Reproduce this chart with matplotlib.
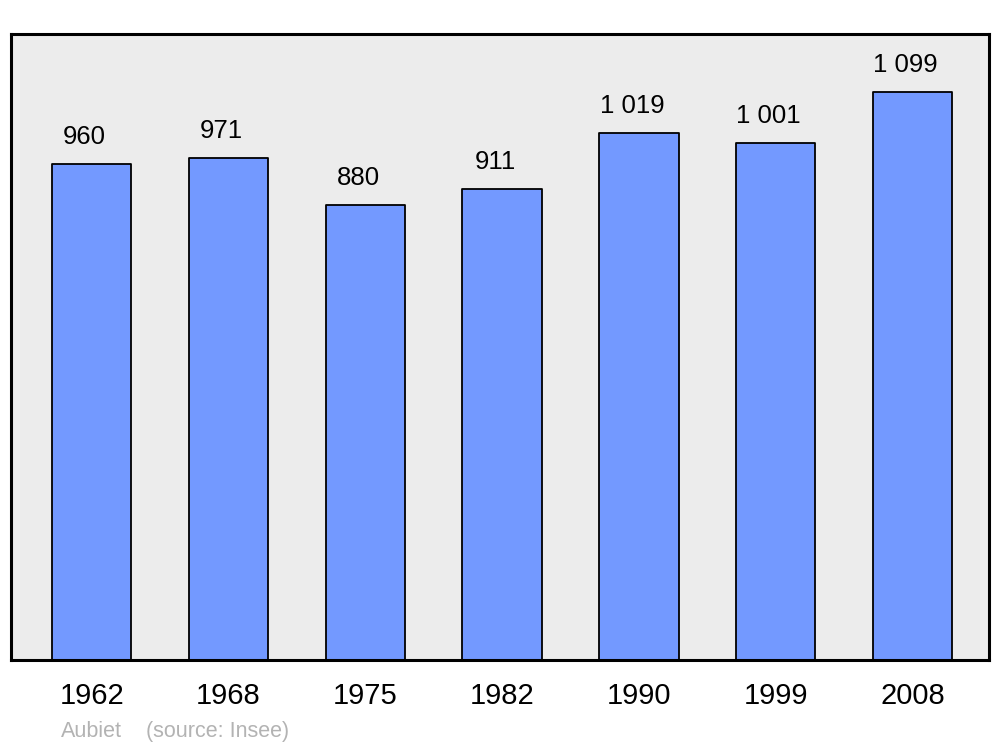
import matplotlib
matplotlib.use("Agg")
import matplotlib.pyplot as plt

plt.rcParams['font.family'] = ['Liberation Sans', 'DejaVu Sans']

years = ['1962', '1968', '1975', '1982', '1990', '1999', '2008']
population = [960, 971, 880, 911, 1019, 1001, 1099]
commune = 'Aubiet'
source = '(source: Insee)'


def fmt(v):
    # thousands separated by a space, French style
    return '{:,}'.format(v).replace(',', ' ')


fig = plt.figure(figsize=(10, 7.47), dpi=100)
ax = fig.add_axes([0.011, 87 / 747, 0.978, 626 / 747])
ax.set_facecolor('#ececec')

x = list(range(len(years)))
ax.bar(x, population, width=0.58, color='#7399ff', edgecolor='black',
       linewidth=1.3, joinstyle='round', zorder=2)

# value labels sit a little left of the bar centre in the original
for xi, v in zip(x, population):
    ax.annotate(fmt(v), (xi, v), xytext=(-7, 27), textcoords='offset pixels',
                ha='center', va='center', fontsize=18.5)

ax.set_xlim(-0.59, 6.56)
ax.set_ylim(0, 1211)
ax.set_yticks([])
ax.set_xticks(x)
ax.set_xticklabels(years, fontsize=21)
ax.tick_params(axis='x', length=0, pad=16)

for s in ax.spines.values():
    s.set_linewidth(2.2)
    s.set_joinstyle('round')

fig.text(0.061, 1 - 737 / 747, commune, color='#b3b3b3', fontsize=15.5,
         ha='left', va='baseline')
fig.text(0.146, 1 - 737 / 747, source, color='#b3b3b3', fontsize=15.5,
         ha='left', va='baseline')

fig.savefig('out.png', dpi=100)
